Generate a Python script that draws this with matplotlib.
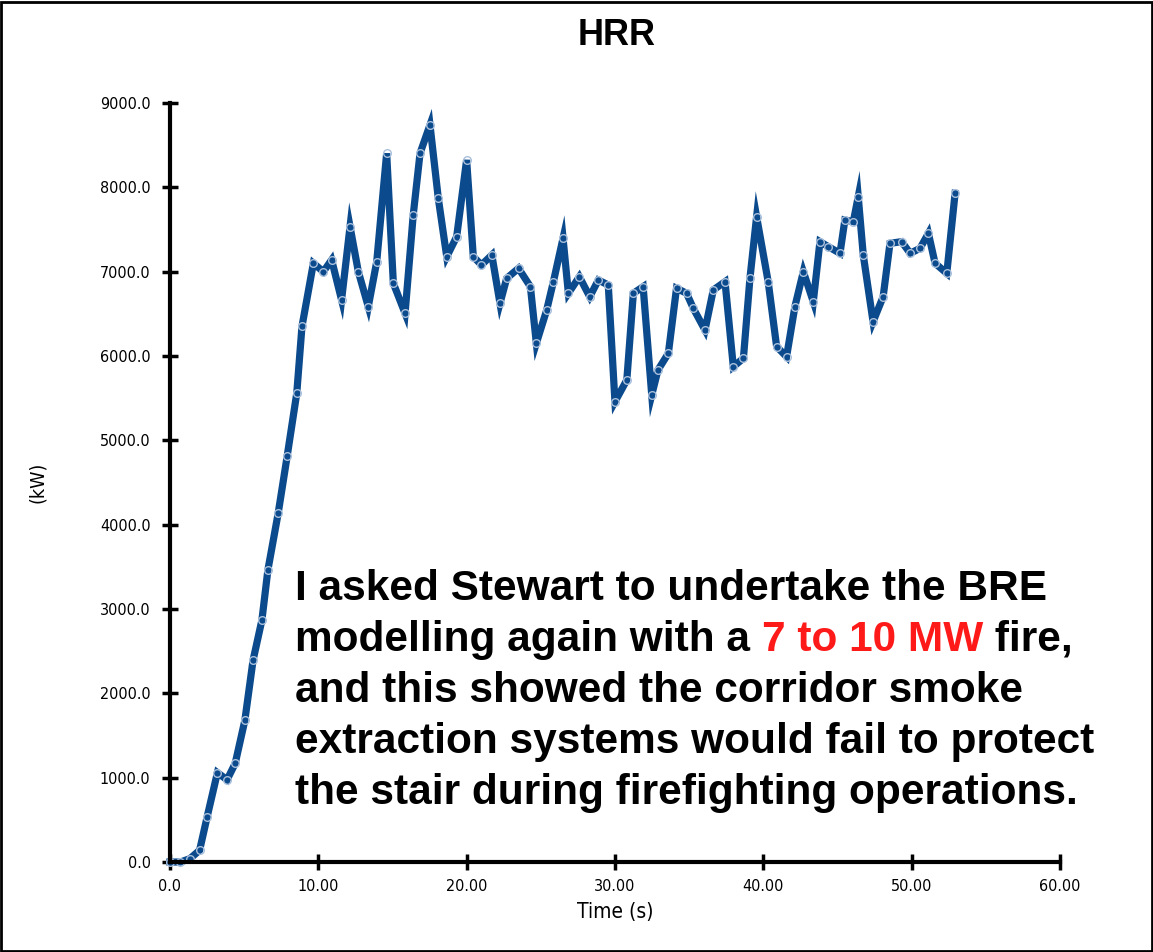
import matplotlib
matplotlib.use("Agg")
from matplotlib import pyplot as plt
from matplotlib.patches import Rectangle

# HRR curve
time_s = [0, 0.7, 1.35, 2.0, 2.5, 3.2, 3.85, 4.4, 5.05, 5.6,
          6.2, 6.6, 7.3, 7.9, 8.55, 8.9, 9.67, 10.34, 10.9, 11.57,
          12.14, 12.7, 13.37, 13.94, 14.61, 15.06, 15.85, 16.4, 16.86, 17.53,
          18.09, 18.66, 19.33, 20.0, 20.45, 21.0, 21.7, 22.25, 22.7, 23.5,
          24.3, 24.7, 25.4, 25.85, 26.5, 26.86, 27.6, 28.3, 28.88, 29.55,
          30.0, 30.8, 31.24, 31.9, 32.48, 32.9, 33.6, 34.15, 34.83, 35.28,
          36.07, 36.63, 37.42, 37.98, 38.66, 39.1, 39.55, 40.33, 40.9, 41.57,
          42.13, 42.7, 43.37, 43.82, 44.38, 45.17, 45.5, 46.07, 46.4, 46.74,
          47.4, 48.08, 48.54, 49.33, 49.9, 50.57, 51.13, 51.58, 52.37, 52.93]
hrr_kw = [0, 0, 40, 140, 530, 1060, 975, 1170, 1680, 2390,
          2870, 3460, 4140, 4810, 5560, 6350, 7100, 7000, 7140, 6665,
          7534, 7000, 6585, 7119, 8404, 6862, 6506, 7672, 8404, 8740,
          7870, 7178, 7415, 8325, 7178, 7080, 7198, 6625, 6921, 7040,
          6822, 6151, 6546, 6881, 7396, 6744, 6940, 6703, 6901, 6842,
          5458, 5716, 6744, 6822, 5538, 5834, 6032, 6803, 6744, 6566,
          6308, 6783, 6881, 5873, 5973, 6921, 7652, 6881, 6111, 5992,
          6585, 7000, 6644, 7356, 7297, 7218, 7613, 7593, 7889, 7198,
          6407, 6703, 7336, 7356, 7218, 7277, 7455, 7100, 6981, 7929]

xticks = [0, 10, 20, 30, 40, 50, 60]
xticklabels = ["0.0", "10.00", "20.00", "30.00", "40.00", "50.00", "60.00"]
yticks = [0, 1000, 2000, 3000, 4000, 5000, 6000, 7000, 8000, 9000]
yticklabels = ["%.1f" % v for v in yticks]

quote_lines = [
    [("I asked Stewart to undertake the BRE", "black")],
    [("modelling again with a ", "black"), ("7 to 10 MW", "#ff1a1a"), (" fire,", "black")],
    [("and this showed the corridor smoke", "black")],
    [("extraction systems would fail to protect", "black")],
    [("the stair during firefighting operations.", "black")],
]

blue = "#0b4a8c"
arial = ["Liberation Sans", "DejaVu Sans"]
small = dict(family="DejaVu Sans", stretch="condensed")

fig = plt.figure(figsize=(11.53, 9.52), dpi=100)
ax = fig.add_axes([0.1474, 0.0945, 0.7719, 0.7973])

ax.plot(time_s, hrr_kw, color=blue, linewidth=5.2, solid_joinstyle="miter",
        marker="o", markersize=5.5, markerfacecolor="none",
        markeredgecolor="#a9c0dc", markeredgewidth=1.0, clip_on=False)

ax.set_xlim(0, 60)
ax.set_ylim(0, 9000)
ax.set_xticks(xticks)
ax.set_xticklabels(xticklabels, fontsize=11.5, **small)
ax.set_yticks(yticks)
ax.set_yticklabels(yticklabels, fontsize=11.5, **small)
ax.tick_params(axis="y", direction="inout", length=12, width=2.5, pad=8)
ax.tick_params(axis="x", direction="inout", length=12, width=2.5, pad=6)

for s in ["top", "right"]:
    ax.spines[s].set_visible(False)
for s in ["left", "bottom"]:
    ax.spines[s].set_linewidth(3)

ax.set_xlabel("Time (s)", fontsize=15, labelpad=6, **small)
ax.set_ylabel("(kW)", fontsize=14, **small)
ax.yaxis.set_label_coords(-0.138, 0.5)

fig.text(0.535, 0.963, "HRR", ha="center", va="center",
         fontsize=26, fontweight="bold", family=arial)

# quote, line by line; coloured pieces chained onto the previous piece
y0 = 0.370
step = 0.0536
for i, parts in enumerate(quote_lines):
    prev = None
    for txt, col in parts:
        kw = dict(fontsize=30.5, fontweight="bold", color=col, family=arial)
        if prev is None:
            prev = fig.text(0.256, y0 - i * step, txt, ha="left", va="baseline", **kw)
        else:
            prev = ax.annotate(txt, xy=(1, 0), xycoords=prev, ha="left", va="bottom", **kw)

fig.add_artist(Rectangle((0.001, 0.001), 0.998, 0.997, transform=fig.transFigure,
                         fill=False, edgecolor="black", linewidth=2))

fig.savefig("out.png", dpi=100)
